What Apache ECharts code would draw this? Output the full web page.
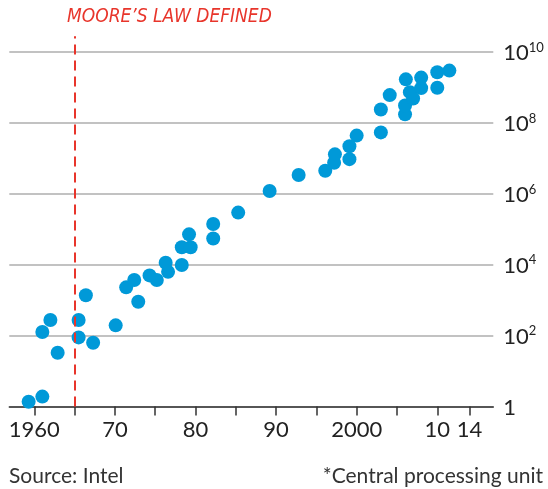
<!DOCTYPE html>
<html>
<head>
<meta charset="utf-8">
<script src="https://cdn.jsdelivr.net/npm/echarts@6/dist/echarts.min.js"></script>
<style>
    html, body { margin: 0; padding: 0; background: #fff; }
    #chart { width: 548px; height: 489px; }
</style>
</head>
<body>
<div id="chart"></div>
<script>
    // year of introduction
    var years = [
        1959.3, 1961.0, 1962.9, 1961.0, 1962.0, 1965.5, 1965.5, 1966.4, 1967.3,
        1970.1, 1971.4, 1972.4, 1972.9, 1974.3, 1975.2, 1976.3, 1976.6, 1978.3,
        1978.3, 1979.4, 1979.2, 1982.2, 1982.2, 1985.3, 1989.2, 1992.8, 1996.1,
        1997.2, 1997.3, 1999.1, 1999.1, 2000.0, 2003.0, 2003.0, 2004.1, 2006.0,
        2006.0, 2007.0, 2006.6, 2008.0, 2006.1, 2008.0, 2010.0, 2011.5, 2010.0
    ];
    // transistors per chip
    var transistors = [
        1.36, 1.9, 33, 126, 275, 275, 89, 1370, 63,
        195, 2300, 3700, 900, 5000, 3700, 11400, 6300, 9800,
        31000, 31000, 72000, 141000, 55000, 295000, 1.2e6, 3.4e6, 4.5e6,
        7.5e6, 1.3e7, 9.5e6, 2.2e7, 4.4e7, 5.4e7, 2.4e8, 6.1e8, 1.75e8,
        3.1e8, 4.9e8, 7.4e8, 9.6e8, 1.7e9, 1.9e9, 2.7e9, 3.0e9, 9.8e8
    ];
    var xTicks = [1960, 1965, 1970, 1975, 1980, 1985, 1990, 1995, 2000, 2005, 2010, 2014];
    var xLabels = [1960, 1970, 1980, 1990, 2000, 2010, 2014];
    var xLabelText = { 1960: '1960', 1970: '70', 1980: '80', 1990: '90', 2000: '2000', 2010: '10', 2014: '14' };
    var yTicks = [1, 1e2, 1e4, 1e6, 1e8, 1e10];
    var mooreYear = 1965;

    var points = years.map(function (y, i) { return [y, transistors[i]]; });

    var myChart = echarts.init(document.getElementById('chart'));
    var option = {
        animation: false,
        grid: {
            left: 9.3,
            right: 54.7,
            top: 36.2,
            bottom: 82.5,
            outerBoundsMode: 'none'
        },
        xAxis: {
            type: 'value',
            min: 1956.9,
            max: 2016.95,
            splitLine: { show: false },
            axisLine: { onZero: false, lineStyle: { color: '#333', width: 1.5 } },
            axisTick: {
                customValues: xTicks,
                length: 9,
                lineStyle: { color: '#333', width: 1.5 }
            },
            axisLabel: {
                customValues: xLabels,
                margin: 12,
                color: '#222',
                fontFamily: 'Lato',
                fontSize: 22,
                formatter: function (v) { return xLabelText[v] || ''; }
            }
        },
        yAxis: {
            type: 'log',
            logBase: 10,
            min: 1,
            max: 2.8e10,
            position: 'right',
            axisLine: { show: false },
            axisTick: { show: false, customValues: yTicks },
            splitLine: { show: true, lineStyle: { color: '#c2c2c2', width: 2 } },
            axisLabel: {
                customValues: yTicks,
                margin: 10,
                color: '#222',
                fontFamily: 'Lato',
                fontSize: 22,
                formatter: function (v) {
                    var e = Math.round(Math.log10(v));
                    return e === 0 ? '{b|1}' : '{b|10}{sup|' + e + '}';
                },
                rich: {
                    b: { fontFamily: 'Lato', fontSize: 22, color: '#222', verticalAlign: 'bottom', lineHeight: 24 },
                    sup: { fontFamily: 'Lato', fontSize: 13, color: '#222', verticalAlign: 'bottom', padding: [0, 0, 10, 0], lineHeight: 14 }
                }
            }
        },
        graphic: [
            {
                type: 'text', left: 67, top: 8,
                style: { text: 'MOORE\u2019S LAW DEFINED', fill: '#e8352b', font: 'italic 19px "DejaVu Sans Condensed", "DejaVu Sans"' }
            },
            {
                type: 'text', left: 9, top: 466,
                style: { text: 'Source: Intel', fill: '#333', font: '21px Lato' }
            },
            {
                type: 'text', right: 5, top: 466,
                style: { text: '*Central processing unit', fill: '#333', font: '21px Lato' }
            }
        ],
        series: [
            {
                type: 'scatter',
                data: points,
                symbolSize: 14,
                itemStyle: { color: '#0099d8', opacity: 1 },
                z: 3,
                markLine: {
                    silent: true,
                    symbol: ['none', 'none'],
                    label: { show: false },
                    lineStyle: { color: '#e8352b', type: [10, 6], width: 2 },
                    data: [[{ coord: [mooreYear, 1] }, { coord: [mooreYear, 2.8e10] }]]
                }
            }
        ]
    };
    myChart.setOption(option);
</script>
</body>
</html>
